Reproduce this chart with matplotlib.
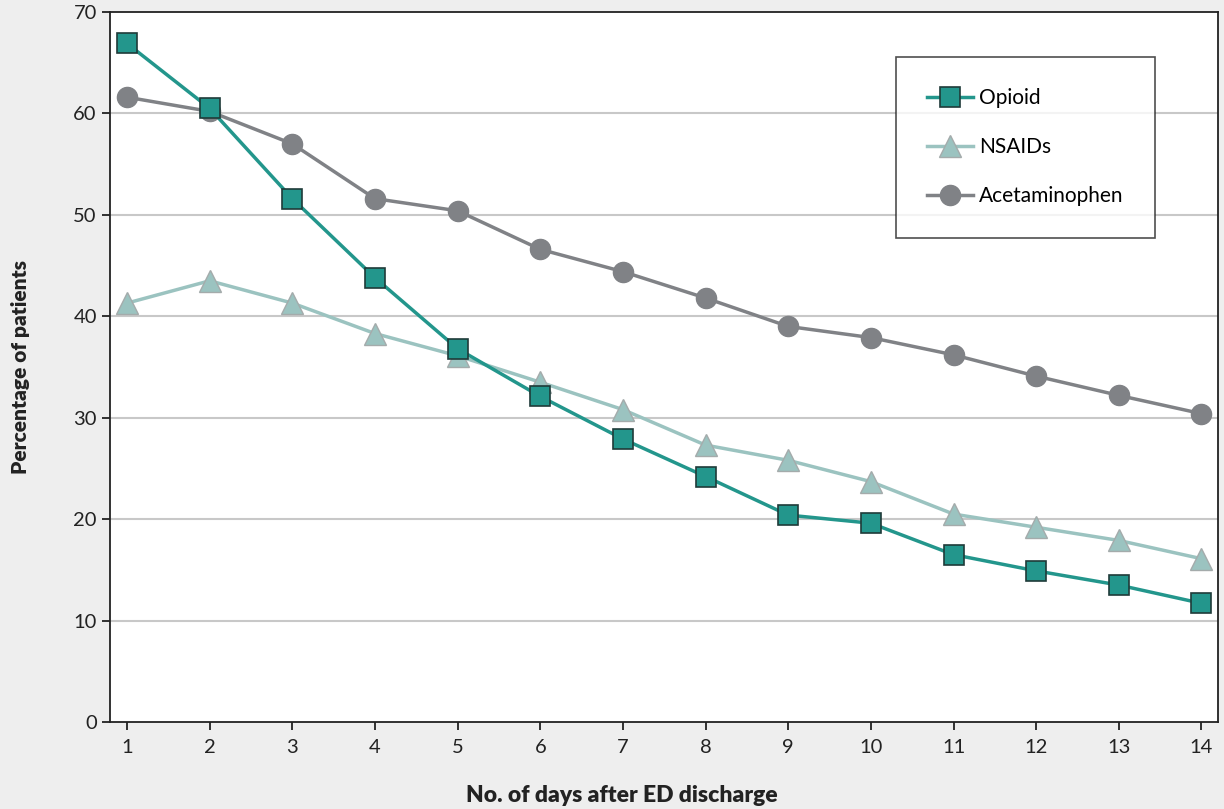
import matplotlib
matplotlib.use("Agg")
import matplotlib.pyplot as plt

plt.rcParams['font.family'] = ['Lato', 'DejaVu Sans']

days = list(range(1, 15))
opioid = [66.9, 60.5, 51.6, 43.8, 36.8, 32.1, 27.9, 24.2, 20.4, 19.6, 16.5, 14.9, 13.5, 11.7]
nsaids = [41.3, 43.5, 41.3, 38.3, 36.1, 33.5, 30.8, 27.3, 25.8, 23.7, 20.5, 19.2, 17.9, 16.1]
acetaminophen = [61.6, 60.2, 57.0, 51.6, 50.4, 46.6, 44.4, 41.8, 39.0, 37.9, 36.2, 34.1, 32.2, 30.4]
yticks = [0, 10, 20, 30, 40, 50, 60, 70]

fig = plt.figure(figsize=(12.24, 8.09), dpi=100, facecolor='#eeeeee')
ax = fig.add_axes([110/1224, 87/809, 1108/1224, 710/809])
ax.set_facecolor('white')

for y in yticks[1:-1]:
    ax.axhline(y, color='#c8c8c8', lw=1.5, zorder=0)

ax.plot(days, acetaminophen, color='#808286', lw=2.5, marker='o', ms=14.5,
        mfc='#808286', mec='#808286', label='Acetaminophen', zorder=2)
ax.plot(days, nsaids, color='#9bc3c0', lw=2.5, marker='^', ms=15.5,
        mfc='#9bc3c0', mec='#a4abab', mew=1.0, label='NSAIDs', zorder=3)
ax.plot(days, opioid, color='#23968c', lw=2.5, marker='s', ms=14.5,
        mfc='#23968c', mec='#1f3b39', mew=1.2, label='Opioid', zorder=4)

ax.set_xlim(0.794, 14.2)
ax.set_ylim(0, 70)
ax.set_xticks(days)
ax.set_yticks(yticks)
ax.tick_params(axis='both', labelsize=14.5, colors='#222222', length=6, width=1.3, direction='out')
ax.tick_params(axis='x', pad=6)
for s in ax.spines.values():
    s.set_color('#222222')
    s.set_linewidth(1.3)

ax.set_ylabel('Percentage of patients', fontsize=15, fontweight='heavy', color='#222222')
ax.set_xlabel('No. of days after ED discharge', fontsize=16.5, fontweight='heavy', color='#222222')
ax.yaxis.set_label_coords(-0.081, 0.5)
ax.xaxis.set_label_coords(0.462, -0.103)
ax.xaxis.label.set_verticalalignment('center')
ax.yaxis.label.set_verticalalignment('center')

handles, labels = ax.get_legend_handles_labels()
order = [2, 1, 0]
leg = ax.legend([handles[i] for i in order], [labels[i] for i in order],
                loc='upper left', bbox_to_anchor=(0.709, 0.937), frameon=True,
                fancybox=False, edgecolor='#222222', fontsize=15,
                handlelength=2.2, handletextpad=0.3, labelspacing=1.4,
                borderpad=1.5, borderaxespad=0, markerscale=1.0)
leg.get_frame().set_linewidth(1.2)
leg.set_zorder(10)

fig.savefig('out.png', dpi=100, facecolor=fig.get_facecolor())
